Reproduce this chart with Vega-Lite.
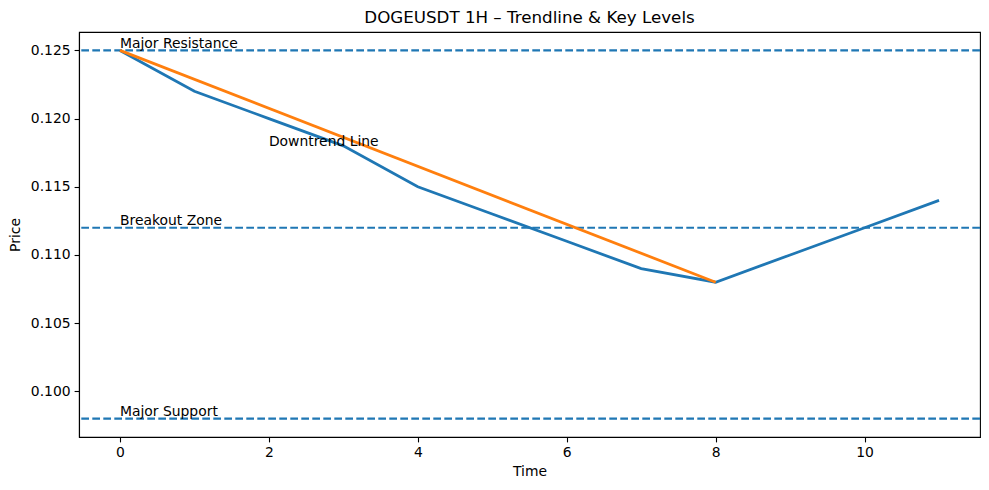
{
  "$schema": "https://vega.github.io/schema/vega-lite/v6.json",
  "width": 901,
  "height": 405,
  "autosize": {"type": "none"},
  "padding": {"left": 79, "top": 32, "right": 9, "bottom": 53},
  "background": "white",
  "config": {
    "font": "DejaVu Sans",
    "view": {"stroke": "black", "strokeWidth": 1.1},
    "axis": {
      "grid": false,
      "domainColor": "black",
      "domainWidth": 1.1,
      "tickColor": "black",
      "tickWidth": 1.1,
      "tickSize": 4.9,
      "labelFont": "DejaVu Sans",
      "labelFontSize": 13.9,
      "labelColor": "black",
      "labelPadding": 4,
      "titleFont": "DejaVu Sans",
      "titleFontSize": 13.9,
      "titleFontWeight": "normal",
      "titleColor": "black"
    }
  },
  "title": {
    "text": "DOGEUSDT 1H – Trendline & Key Levels",
    "font": "DejaVu Sans",
    "fontSize": 16.7,
    "fontWeight": "normal",
    "color": "black",
    "anchor": "middle",
    "offset": 5
  },
  "datasets": {
    "price": [
      {"t": 0, "price": 0.125},
      {"t": 1, "price": 0.122},
      {"t": 2, "price": 0.120},
      {"t": 3, "price": 0.118},
      {"t": 4, "price": 0.115},
      {"t": 5, "price": 0.113},
      {"t": 6, "price": 0.111},
      {"t": 7, "price": 0.109},
      {"t": 8, "price": 0.108},
      {"t": 9, "price": 0.110},
      {"t": 10, "price": 0.112},
      {"t": 11, "price": 0.114}
    ],
    "trend": [
      {"t": 0, "price": 0.125},
      {"t": 8, "price": 0.108}
    ],
    "levels": [
      {"level": 0.125, "label": "Major Resistance", "t": 0, "ly": 0.1252},
      {"level": 0.112, "label": "Breakout Zone", "t": 0, "ly": 0.1122},
      {"level": 0.098, "label": "Major Support", "t": 0, "ly": 0.0982}
    ],
    "notes": [
      {"t": 2, "price": 0.118, "label": "Downtrend Line"}
    ]
  },
  "layer": [
    {
      "data": {"name": "levels"},
      "mark": {"type": "rule", "color": "#1f77b4", "strokeWidth": 2.08, "strokeDash": [7.7, 3.3]},
      "encoding": {
        "y": {"field": "level", "type": "quantitative", "scale": {"domain": [0.09665, 0.12635], "nice": false, "zero": false}}
      }
    },
    {
      "data": {"name": "price"},
      "mark": {"type": "line", "color": "#1f77b4", "strokeWidth": 2.78, "clip": true},
      "encoding": {
        "x": {
          "field": "t", "type": "quantitative",
          "scale": {"domain": [-0.55, 11.55], "nice": false, "zero": false},
          "axis": {"values": [0, 2, 4, 6, 8, 10], "format": "d", "title": "Time", "titlePadding": 5}
        },
        "y": {
          "field": "price", "type": "quantitative",
          "scale": {"domain": [0.09665, 0.12635], "nice": false, "zero": false},
          "axis": {"values": [0.100, 0.105, 0.110, 0.115, 0.120, 0.125], "format": ".3f", "title": "Price", "titlePadding": 8}
        }
      }
    },
    {
      "data": {"name": "trend"},
      "mark": {"type": "line", "color": "#ff7f0e", "strokeWidth": 2.78},
      "encoding": {
        "x": {"field": "t", "type": "quantitative"},
        "y": {"field": "price", "type": "quantitative"}
      }
    },
    {
      "data": {"name": "levels"},
      "mark": {"type": "text", "align": "left", "baseline": "alphabetic", "fontSize": 13.9, "color": "black", "font": "DejaVu Sans"},
      "encoding": {
        "x": {"field": "t", "type": "quantitative"},
        "y": {"field": "ly", "type": "quantitative"},
        "text": {"field": "label"}
      }
    },
    {
      "data": {"name": "notes"},
      "mark": {"type": "text", "align": "left", "baseline": "alphabetic", "fontSize": 13.9, "color": "black", "font": "DejaVu Sans"},
      "encoding": {
        "x": {"field": "t", "type": "quantitative"},
        "y": {"field": "price", "type": "quantitative"},
        "text": {"field": "label"}
      }
    }
  ]
}
